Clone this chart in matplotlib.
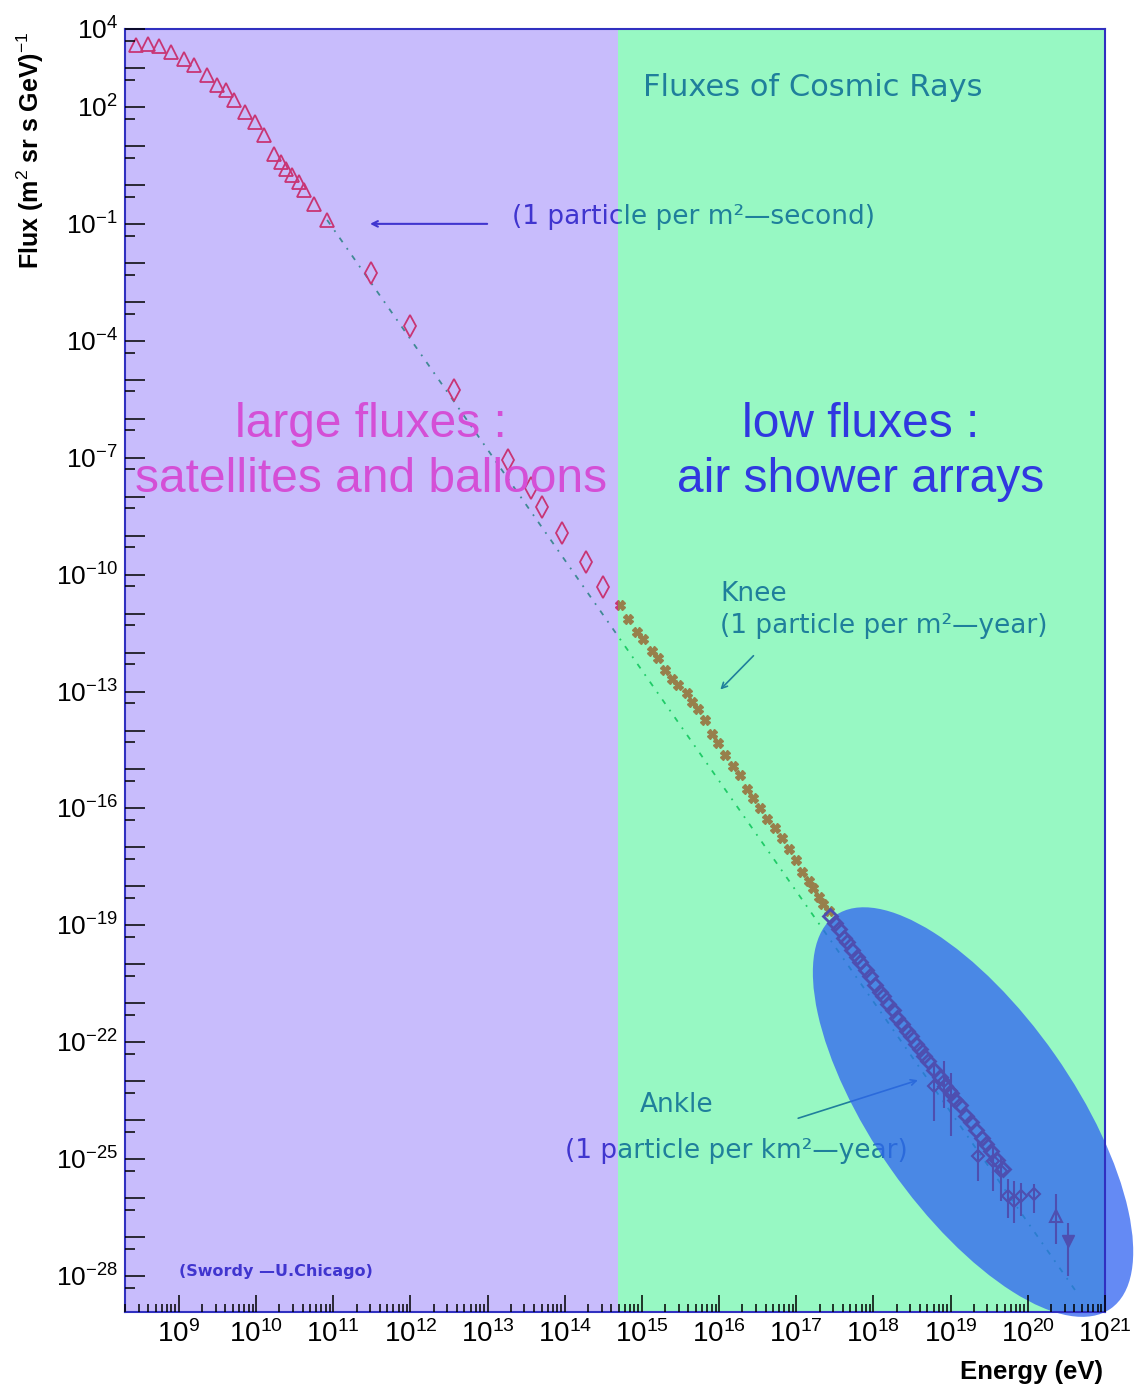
import matplotlib
matplotlib.use('Agg')
import matplotlib.pyplot as plt
import numpy as np
from matplotlib.patches import Ellipse
from matplotlib.transforms import ScaledTranslation
from matplotlib.ticker import LogLocator, FuncFormatter, NullFormatter

plt.rcParams['mathtext.fontset'] = 'custom'
plt.rcParams['mathtext.rm'] = 'Liberation Sans'
plt.rcParams['mathtext.it'] = 'Liberation Sans:italic'
plt.rcParams['mathtext.bf'] = 'Liberation Sans:bold'

# values, as log10(E / eV) and log10(flux)
tri_logE = [8.44, 8.60, 8.74, 8.90, 9.06, 9.19, 9.36, 9.49, 9.61, 9.71, 9.86,
            9.99, 10.10, 10.23, 10.32, 10.39, 10.47, 10.56, 10.62, 10.75, 10.92]
tri_logF = [3.59, 3.62, 3.56, 3.41, 3.23, 3.08, 2.82, 2.56, 2.44, 2.18, 1.87,
            1.62, 1.28, 0.79, 0.59, 0.41, 0.26, 0.08, -0.13, -0.49, -0.90]

dia_logE = [11.49, 11.99, 12.57, 13.26, 13.56, 13.71, 13.97, 14.27, 14.49]
dia_logF = [-2.26, -3.62, -5.26, -7.05, -7.79, -8.26, -8.92, -9.67, -10.31]

knee_logE = [14.71, 14.82, 14.94, 15.01, 15.13, 15.21, 15.30, 15.39, 15.47, 15.58,
             15.65, 15.73, 15.82, 15.91, 15.99, 16.08, 16.18, 16.27, 16.36, 16.44,
             16.53, 16.62, 16.73, 16.82, 16.90, 16.99, 17.08, 17.16, 17.22, 17.29,
             17.35, 17.42]
knee_logF = [-10.77, -11.13, -11.46, -11.64, -11.97, -12.15, -12.44, -12.67, -12.82, -13.05,
             -13.26, -13.46, -13.72, -14.08, -14.33, -14.62, -14.92, -15.13, -15.49, -15.74,
             -16.00, -16.28, -16.51, -16.77, -17.05, -17.31, -17.62, -17.87, -18.05, -18.26,
             -18.44, -18.64]

uhe_logE = [17.44, 17.50, 17.55, 17.62, 17.66, 17.72, 17.78, 17.83, 17.90, 17.95,
            18.02, 18.08, 18.12, 18.19, 18.25, 18.31, 18.37, 18.43, 18.48, 18.55,
            18.60, 18.66, 18.71, 18.78, 18.86, 18.93, 19.00, 19.06, 19.12, 19.20,
            19.27, 19.33, 19.40, 19.46, 19.52, 19.60, 19.68]
uhe_logF = [-18.75, -18.95, -19.08, -19.33, -19.42, -19.62, -19.80, -19.93, -20.15, -20.30,
            -20.52, -20.70, -20.80, -21.02, -21.18, -21.38, -21.52, -21.70, -21.83, -22.05,
            -22.18, -22.35, -22.48, -22.70, -22.90, -23.12, -23.30, -23.48, -23.62, -23.88,
            -24.05, -24.25, -24.45, -24.62, -24.78, -25.02, -25.25]

err_logE = [18.78, 18.91, 19.00, 19.35, 19.55, 19.65, 19.74, 19.82, 19.91, 20.08, 20.36, 20.52]
err_logF = [-23.13, -23.00, -23.26, -24.92, -25.05, -25.31, -25.95, -26.08, -25.95, -25.90, -26.46, -27.10]
err_hi = [-22.54, -22.49, -22.79, -24.54, -24.67, -24.92, -25.51, -25.56, -25.62, -25.64, -25.90, -26.64]
err_lo = [-24.03, -23.69, -24.41, -25.56, -25.82, -26.08, -26.51, -26.64, -26.46, -26.38, -27.18, -28.00]

fit_logE = [10.92, 20.62]
fit_logF = [-0.90, -28.38]

y_labelled = [4, 2, -1, -4, -7, -10, -13, -16, -19, -22, -25, -28]
split_logE = 14.69
navy = '#0000aa'

fig = plt.figure(figsize=(11.43, 13.88), dpi=100)
ax = fig.add_axes([125/1143, 76/1388, 980/1143, 1283/1388])
ax.set_xscale('log')
ax.set_yscale('log')
ax.set_xlim(2e8, 1e21)
ax.set_ylim(10**-28.92, 1e4)

p = lambda v: 10**np.array(v)

ax.plot(p(fit_logE), p(fit_logF), color='#00a03c', lw=1.3, ls=(0, (3, 4, 1, 4)), zorder=1.5)
ax.plot(p(tri_logE), p(tri_logF), ls='none', marker='^', ms=10, mfc='none', mec='red', mew=1.3, zorder=2)
ax.plot(p(dia_logE), p(dia_logF), ls='none', marker='d', ms=11, mfc='none', mec='red', mew=1.3, zorder=2)
ax.plot(p(knee_logE), p(knee_logF), ls='none', marker='X', ms=7, color='red', zorder=2)

# navy annotations (under the coloured overlays)
ax.text(10**15.01, 10**2.51, 'Fluxes of Cosmic Rays', color=navy, fontsize=22, va='center', zorder=3)
ax.text(10**13.31, 10**-0.82, '(1 particle per m²—second)', color=navy, fontsize=19, va='center', zorder=3)
ax.annotate('', xy=(10**11.44, 10**-1.0), xytext=(10**13.03, 10**-1.0),
            arrowprops=dict(arrowstyle='->', color=navy, lw=1.5), zorder=3)
ax.text(10**16.01, 10**-10.49, 'Knee', color=navy, fontsize=19, va='center', zorder=3)
ax.text(10**16.01, 10**-11.33, '(1 particle per m²—year)', color=navy, fontsize=19, va='center', zorder=3)
ax.annotate('', xy=(10**15.99, 10**-13.0), xytext=(10**16.47, 10**-12.03),
            arrowprops=dict(arrowstyle='->', color=navy, lw=1.2), zorder=3)
ax.text(10**15.45, 10**-23.62, 'Ankle', color=navy, fontsize=19, ha='center', va='center', zorder=3)
ax.text(10**14.0, 10**-24.79, '(1 particle per km²—year)', color=navy, fontsize=19, va='center', zorder=3)
ax.annotate('', xy=(10**18.61, 10**-22.95), xytext=(10**16.99, 10**-23.97),
            arrowprops=dict(arrowstyle='->', color=navy, lw=1.2), zorder=3)
ax.text(10**9.0, 10**-27.87, '(Swordy —U.Chicago)', color=navy, fontsize=11.5, fontweight='bold', va='center', zorder=3)

# coloured overlays
ax.axvspan(2e8, 10**split_logE, color='#8a71f9', alpha=0.47, lw=0, zorder=4)
ax.axvspan(10**split_logE, 1e21, color='#3cf28f', alpha=0.53, lw=0, zorder=4)

# highlight ellipse
tr = fig.dpi_scale_trans + ScaledTranslation(10**19.29, 10**-23.79, ax.transData)
ax.add_patch(Ellipse((0, 0), width=4.8, height=2.0, angle=-55, transform=tr,
                     facecolor='#3063f1', alpha=0.75, lw=0, clip_on=False, zorder=6))

uhe_c = '#4e4fb0'
ax.plot(p(uhe_logE), p(uhe_logF), ls='none', marker='D', ms=7, mfc='none', mec=uhe_c, mew=2, zorder=8)
ef = p(err_logF)
ax.errorbar(p(err_logE), ef, yerr=[ef - p(err_lo), p(err_hi) - ef], fmt='none', ecolor=uhe_c, elinewidth=1.5, zorder=8)
ax.plot(p(err_logE[:10]), ef[:10], ls='none', marker='D', ms=6, mfc='none', mec=uhe_c, mew=1.5, zorder=8)
ax.plot(p(err_logE[10:11]), ef[10:11], ls='none', marker='^', ms=9, mfc='none', mec=uhe_c, mew=1.5, zorder=8)
ax.plot(p(err_logE[11:]), ef[11:], ls='none', marker='v', ms=9, color=uhe_c, zorder=8)

# big labels
ax.text(10**11.49, 10**-6.46, 'large fluxes :', color='#d44fd6', fontsize=34.5,
        family='Liberation Sans', ha='center', va='baseline', zorder=7)
ax.text(10**11.49, 10**-7.87, 'satellites and balloons', color='#d44fd6', fontsize=34.5,
        family='Liberation Sans', ha='center', va='baseline', zorder=7)
ax.text(10**17.83, 10**-6.46, 'low fluxes :', color='#3038e0', fontsize=34.5,
        family='Liberation Sans', ha='center', va='baseline', zorder=7)
ax.text(10**17.83, 10**-7.87, 'air shower arrays', color='#3038e0', fontsize=34.5,
        family='Liberation Sans', ha='center', va='baseline', zorder=7)

# axes styling
ax.xaxis.set_major_locator(LogLocator(base=10, numticks=100))
ax.xaxis.set_minor_locator(LogLocator(base=10, subs=np.arange(2, 10), numticks=100))
ax.yaxis.set_major_locator(LogLocator(base=10, numticks=100))
ax.yaxis.set_minor_locator(LogLocator(base=10, subs=(5,), numticks=100))
ax.xaxis.set_major_formatter(FuncFormatter(lambda v, pos: '$10^{%d}$' % round(np.log10(v))))
ax.yaxis.set_major_formatter(FuncFormatter(
    lambda v, pos: '$10^{%d}$' % round(np.log10(v)) if round(np.log10(v)) in y_labelled else ''))
ax.xaxis.set_minor_formatter(NullFormatter())
ax.yaxis.set_minor_formatter(NullFormatter())
ax.tick_params(axis='x', which='major', direction='in', length=12, width=1.1, pad=6, labelsize=20, top=False)
ax.tick_params(axis='x', which='minor', direction='in', length=6, width=1.1, top=False)
ax.tick_params(axis='y', which='major', direction='in', length=14.4, width=1.1, pad=5, labelsize=19, right=False)
ax.tick_params(axis='y', which='minor', direction='in', length=7.2, width=1.1, right=False)
ax.xaxis.set_zorder(9)
ax.yaxis.set_zorder(9)
for s in ax.spines.values():
    s.set_color('#3030c0')
    s.set_linewidth(1.5)
    s.set_zorder(9)

fig.text(30/1143, 1 - 150/1388, 'Flux (m$^{2}$ sr s GeV)$^{-1}$', rotation=90, ha='center', va='center',
         fontsize=18, fontweight='bold', family='Liberation Sans')
fig.text(1103/1143, 1 - 1372/1388, 'Energy (eV)', ha='right', va='center',
         fontsize=18.5, fontweight='bold', family='Liberation Sans')

fig.savefig('out.png', dpi=100)
